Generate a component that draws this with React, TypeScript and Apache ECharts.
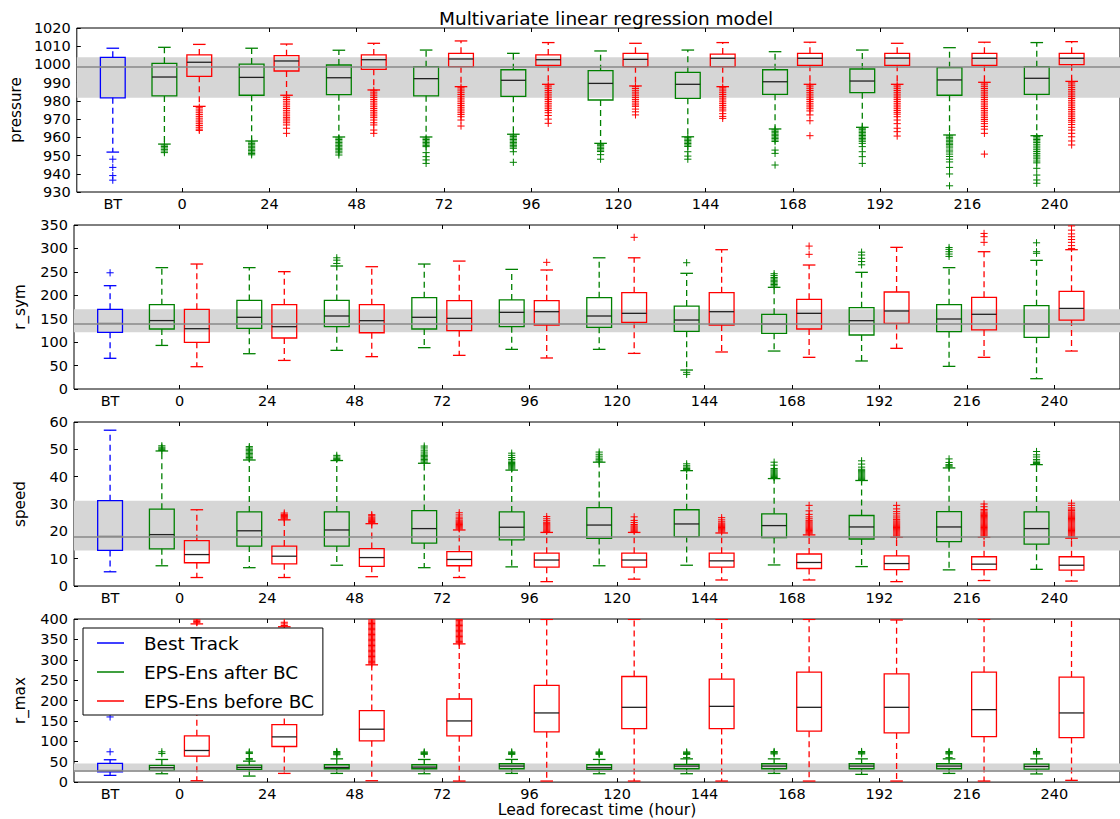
import React, { useEffect, useRef } from "react";
import * as echarts from "echarts";

const FONT = "DejaVu Sans";
const C_BT = "#0000ff";
const C_AFTER = "#008000";
const C_BEFORE = "#ff0000";

const LEADS = [0, 24, 48, 72, 96, 120, 144, 168, 192, 216, 240];
const BT_POS = -19.1;
const AFTER_OFFSET = -4.9;
const BEFORE_OFFSET = 4.7;
const X_TICK_LABELS = ["BT", "0", "24", "48", "72", "96", "120", "144", "168", "192", "216", "240"];

// ---------- pressure ----------  [min, Q1, median, Q3, max]
const pressureBT = [951.9, 981.7, 998.6, 1003.9, 1008.9];
const pressureBTOut = [948, 943.5, 939, 936.5];
const pressureAfter = [
  [956.3, 982.7, 993.1, 1000.6, 1009.4],
  [958, 983.1, 992.9, 1000.2, 1008.9],
  [960.2, 983.4, 992.7, 999.7, 1007.8],
  [960.2, 982.8, 992.2, 998.8, 1007.9],
  [961.7, 982.5, 991.3, 997.1, 1006.1],
  [956.7, 980.5, 989.6, 996.6, 1007.4],
  [960.3, 981.4, 989.1, 995.7, 1007.9],
  [964.6, 983.6, 990.5, 997.1, 1007],
  [965.5, 984.5, 990.9, 997.5, 1007.9],
  [961.3, 983.1, 991.5, 998.2, 1009.2],
  [960.9, 983.6, 992.4, 998.8, 1012],
];
const pressureBefore = [
  [977, 993.5, 1001.2, 1005.2, 1011],
  [983.1, 996.4, 1001.9, 1004.8, 1011.2],
  [986, 997.3, 1002.6, 1005.2, 1011.6],
  [987.8, 998.8, 1003, 1006.1, 1012.9],
  [989.1, 999.5, 1002.6, 1005.2, 1012],
  [988.2, 998.8, 1002.8, 1006.1, 1011.6],
  [987.8, 998.8, 1003.4, 1005.7, 1012],
  [989.1, 999.5, 1003.4, 1006.1, 1012.2],
  [989.1, 999.5, 1003.5, 1006.1, 1011.6],
  [990.2, 999.5, 1003.4, 1006.1, 1012.2],
  [990.7, 999.9, 1003.4, 1006.1, 1012.5],
];
const pressureAfterOut = [
  [955.8, 955, 954.2, 953.4, 952.5, 951.6],
  [957.5, 956.7, 955.9, 955.1, 954.3, 953.5, 952.7, 951.9, 951.1, 950.4],
  [959.6, 958.8, 958, 957.2, 956.4, 955.6, 954.8, 954, 953.2, 952.4, 951.5, 950.3],
  [959.6, 958.8, 958, 957.2, 956.4, 955.6, 954.9, 951.6, 949.4, 947.6, 945.7],
  [961.2, 960.4, 959.6, 958.8, 958, 957.2, 956.4, 955.6, 954.8, 954, 952.1, 946.3],
  [956.2, 955.4, 954.6, 953.8, 953, 952.2, 950.5, 948],
  [959.8, 959, 958.2, 957.4, 956.6, 955.8, 955, 952.1, 949.7, 948],
  [964.1, 963.3, 962.5, 961.7, 960.9, 960.1, 959.3, 958.5, 957.7, 953, 951.2, 944.8],
  [965, 964.2, 963.4, 962.6, 961.8, 961, 960.2, 959.4, 958.6, 957.8, 956.7, 954.9, 952.1, 949.4, 945.7],
  [960.8, 960, 959.2, 958.4, 957.6, 956.8, 956, 955.2, 954.2, 953, 952, 950.8, 949.5, 948, 946.5, 943.5, 939.9, 933.4],
  [960.4, 959.6, 958.8, 958, 957.2, 956.2, 955.2, 954.2, 953.2, 952.2, 951.2, 950.2, 949.2, 948.2, 947, 946, 943, 939.3, 936.6, 934.8],
];
const pressureBeforeOut = [
  [976.5, 975.5, 974.5, 973.5, 972.5, 971.5, 970.5, 969.5, 968.5, 967.5, 966.5, 965.5, 964.5, 963.8],
  [982.8, 981.8, 980.8, 979.8, 978.8, 977.8, 976.8, 975.8, 974.8, 973.8, 972.8, 971.8, 970.8, 970, 969, 968, 966.8, 965, 962.2],
  [985.8, 984.8, 983.8, 982.8, 981.8, 980.8, 979.8, 978.8, 977.8, 976.8, 975.8, 974.8, 973.8, 972.8, 971.8, 970.8, 969.5, 968, 966.8, 964, 962.2],
  [987.5, 986.5, 985.5, 984.5, 983.5, 982.5, 981.5, 980.5, 979.5, 978.5, 977.5, 976.5, 975.5, 974.5, 973.5, 972.5, 971.3, 969.5, 966.2],
  [988.7, 987.7, 986.7, 985.7, 984.7, 983.7, 982.7, 981.7, 980.7, 979.7, 978.7, 977.7, 976.7, 975.7, 974.7, 973.5, 972, 970, 967.7],
  [987.8, 986.8, 985.8, 984.8, 983.8, 982.8, 981.8, 980.8, 979.8, 978.8, 977.8, 977, 975.5, 974, 972.3],
  [987.5, 986.5, 985.5, 984.5, 983.5, 982.5, 981.5, 980.5, 979.5, 978.5, 977.5, 976.5, 975.5, 974.5, 973, 971.5, 970.4],
  [988.7, 987.7, 986.7, 985.7, 984.7, 983.7, 982.7, 981.7, 980.7, 979.7, 978.7, 977.7, 976.7, 975.7, 974.5, 972.3, 969.1, 960.9],
  [988.7, 987.7, 986.7, 985.7, 984.7, 983.7, 982.7, 981.7, 980.7, 979.7, 978.7, 977.7, 976.7, 975.7, 974.7, 973.7, 972.7, 971.3, 969.5, 967.5, 965, 963.1, 960.7],
  [989.8, 988.8, 987.8, 986.8, 985.8, 984.8, 983.8, 982.8, 981.8, 980.8, 979.8, 978.8, 977.8, 976.8, 975.8, 974.8, 973.8, 972.8, 971.8, 970.8, 969.8, 968.8, 967.5, 966, 964.5, 962.2, 950.8],
  [990.3, 989.3, 988.3, 987.3, 986.3, 985.3, 984.3, 983.3, 982.3, 981.3, 980.3, 979.3, 978.3, 977.3, 976.3, 975.3, 974.3, 973.3, 972.3, 971.3, 970.3, 969.3, 968.3, 967, 965.5, 964, 962.2, 960.3, 958, 955.8],
];

// ---------- r_sym ----------
const rsymBT = [65.5, 121, 140.2, 170, 220.5];
const rsymBTOut = [248];
const rsymAfter = [
  [93, 128, 146, 180, 259],
  [75.3, 129.5, 153, 189, 259],
  [82.5, 133, 155.8, 189, 262.5],
  [88.2, 128, 153, 195, 266.7],
  [84.6, 133, 163.6, 190, 255.3],
  [84.6, 131.6, 155.8, 195, 280],
  [40.5, 123, 147.2, 177, 246.9],
  [81, 118.8, 138.7, 159.4, 217],
  [59.8, 115.2, 145.8, 173.5, 249],
  [48.3, 122.3, 149.4, 180, 259],
  [22, 110.3, 138.7, 177.8, 274.6],
];
const rsymBefore = [
  [47.6, 99.6, 128.7, 170, 266.7],
  [61, 108.8, 133, 180, 250.4],
  [69, 120, 145.8, 180, 261],
  [71.8, 124.5, 150.8, 188.5, 273],
  [66.2, 136.6, 165, 188.5, 254],
  [76, 142.3, 161.5, 205.6, 280],
  [79, 136.6, 165, 205.6, 297.3],
  [67.6, 128, 161.5, 191.4, 264.6],
  [86.8, 140, 166.5, 207, 302.3],
  [67.6, 126, 159.4, 195.7, 293],
  [81, 147.2, 172, 208.5, 297.3],
];
const rsymAfterOut = [
  [], [], [268, 275, 280], [], [], [], [269.5, 35.6, 31.3],
  [220, 223, 226, 229, 232, 235, 238, 242, 246],
  [265, 272, 279, 286, 292],
  [283, 288, 293, 298, 302],
  [289.6, 293, 312],
];
const rsymBeforeOut = [
  [], [], [], [], [270.3], [323.7], [], [287.4, 305], [], [313, 325, 332],
  [300, 306, 313, 319, 325, 331, 339, 348],
];

// ---------- speed ----------
const speedBT = [5.2, 13, 18.2, 31.2, 57];
const speedBTOut: number[] = [];
const speedAfter = [
  [7.4, 13.6, 18.8, 28.1, 49.4],
  [6.7, 14.6, 20.2, 27.1, 46.1],
  [7.6, 14.6, 20.5, 27.1, 45.9],
  [6.7, 15.7, 21, 27.6, 44.9],
  [7, 16.9, 21.5, 27.1, 42.4],
  [7.4, 17.4, 22.3, 28.7, 45.3],
  [7.6, 18.1, 22.7, 27.9, 42.2],
  [7.7, 17.7, 22.1, 26.4, 39.3],
  [7.1, 17.2, 21.6, 25.8, 38.6],
  [5.9, 16.2, 21.6, 27.2, 43.2],
  [6.1, 15.3, 21, 27.1, 44.4],
];
const speedBefore = [
  [3.1, 8.5, 11.5, 16.6, 27.9],
  [3.1, 8.1, 10.9, 14.6, 24.2],
  [3.4, 7.2, 10.4, 13.7, 22.8],
  [3.1, 7.4, 9.7, 12.6, 20.5],
  [1.6, 6.9, 9.5, 12, 19.6],
  [2.5, 6.9, 9.5, 12, 19.6],
  [2.2, 6.9, 9.2, 12, 19.4],
  [2.2, 6.4, 8.6, 11.7, 18.7],
  [1.6, 6, 8.2, 11, 17.8],
  [2, 6, 8, 10.7, 17.8],
  [1.8, 5.8, 7.6, 10.7, 17.5],
];
const speedAfterOut = [
  [49.6, 50, 50.4, 50.8, 51.3],
  [46.5, 47, 47.5, 48, 48.5, 49, 49.5, 50, 50.5, 51],
  [46.3, 46.7, 47.2, 47.8],
  [45.3, 45.8, 46.3, 46.8, 47.3, 47.8, 48.3, 49, 49.7, 50.5, 51.2],
  [42.8, 43.2, 43.6, 44, 44.4, 44.8, 45.2, 45.7, 46.3, 47, 47.8, 48.6],
  [45.7, 46.2, 46.8, 47.5, 48.2, 49],
  [42.6, 43, 43.5, 44, 44.7],
  [39.7, 40.1, 40.5, 40.9, 41.3, 41.7, 42.1, 42.5, 43, 44.2, 45.3],
  [39, 39.4, 39.8, 40.2, 40.6, 41, 41.4, 41.8, 42.2, 42.7, 43.5, 44.6, 45.8],
  [43.6, 44, 44.4, 45.2, 46.5],
  [44.8, 45.2, 45.7, 46.3, 47.2, 48, 49.2],
];
const speedBeforeOut = [
  [],
  [24.6, 25, 25.4, 25.8, 26.2, 26.7],
  [23.2, 23.6, 24, 24.4, 24.8, 25.2, 25.7, 26.1],
  [20.9, 21.3, 21.7, 22.1, 22.5, 22.9, 23.3, 23.7, 24.1, 24.6, 25.2, 26, 26.8],
  [20, 20.4, 20.8, 21.2, 21.6, 22, 22.4, 22.8, 23.3, 23.9, 24.6, 25.4],
  [20, 20.4, 20.8, 21.2, 21.6, 22, 22.5, 23.2, 24, 25.3],
  [19.8, 20.2, 20.6, 21, 21.4, 21.8, 22.2, 22.6, 23, 23.5, 24.2, 25],
  [19.1, 19.5, 19.9, 20.3, 20.7, 21.1, 21.5, 21.9, 22.3, 22.7, 23.1, 23.5, 24, 24.6, 25.3, 26.2, 27.5, 29.5],
  [18.2, 18.6, 19, 19.4, 19.8, 20.2, 20.6, 21, 21.4, 21.8, 22.2, 22.6, 23, 23.4, 23.8, 24.3, 24.9, 25.6, 26.4, 27.2, 28.2, 29.5],
  [18.2, 18.6, 19, 19.4, 19.8, 20.2, 20.6, 21, 21.4, 21.8, 22.2, 22.6, 23, 23.4, 23.8, 24.2, 24.6, 25, 25.4, 25.8, 26.2, 26.6, 27, 27.5, 28, 29, 30],
  [17.9, 18.3, 18.7, 19.1, 19.5, 19.9, 20.3, 20.7, 21.1, 21.5, 21.9, 22.3, 22.7, 23.1, 23.5, 23.9, 24.3, 24.7, 25.1, 25.5, 25.9, 26.3, 26.7, 27.1, 27.6, 28.1, 28.6, 29.5, 30.3],
];

// ---------- r_max ----------
const rmaxBT = [16.5, 25.4, 28.7, 45.8, 54.8];
const rmaxBTOut = [74.3, 159.8];
const rmaxAfter = [
  [20.5, 28.7, 35.2, 40.9, 55.5],
  [14.8, 31.1, 36, 41.7, 51.4],
  [21.3, 32.8, 36, 42.5, 57],
  [20.5, 32.8, 36.8, 42.5, 55.5],
  [21.3, 32.8, 39.3, 45, 55.6],
  [20.5, 31.1, 35.2, 42.5, 55.6],
  [20.5, 32.8, 39.3, 43.4, 57],
  [21.3, 32.8, 39.3, 45, 57],
  [19, 32.8, 39.3, 45, 57],
  [21.3, 32.8, 39.3, 45, 57],
  [20, 32, 38.5, 44.2, 57],
];
const rmaxBefore = [
  [3.4, 63.7, 77.5, 113.4, 388],
  [21.3, 87.3, 110.9, 141, 381],
  [3.4, 101.2, 129.7, 175.3, 287.6],
  [2.6, 113.4, 150, 203.8, 339],
  [2.6, 123.3, 169.6, 237, 399],
  [2.6, 131.3, 183.4, 259, 399],
  [2.6, 131.3, 185.8, 252.6, 399],
  [2.6, 124.8, 183.4, 269.7, 399],
  [2.6, 120.7, 183.4, 265.6, 397.6],
  [2.6, 111.7, 177.7, 269.7, 399],
  [4.3, 109.3, 169.6, 257.5, 410],
];
const rmaxAfterOut = [
  [70, 74.3],
  [55, 58, 70, 72, 74],
  [67, 69, 71, 73, 75],
  [68, 70, 72, 74],
  [68, 70, 72, 74],
  [68, 70, 72, 74],
  [60, 68, 70, 72, 74],
  [69, 71, 73, 75],
  [69, 71, 73, 75],
  [60, 69, 71, 73, 75],
  [69, 71, 73, 75],
];
const rmaxBeforeOut = [
  [391, 394, 397, 400],
  [384, 388, 392],
  [290, 293, 296, 299, 302, 305, 308, 311, 314, 317, 320, 323, 326, 329, 332, 335, 338, 341, 344, 347, 350, 353, 356, 359, 362, 365, 368, 371, 374, 377, 380, 383, 386, 389, 392, 395, 398],
  [342, 345, 348, 351, 354, 357, 360, 363, 366, 369, 372, 375, 378, 381, 384, 387, 390, 393, 396, 399],
  [], [], [], [], [], [], [],
];

const PANELS = [
  { name: "pressure", min: 930, max: 1020, interval: 10, bt: pressureBT, btOut: pressureBTOut, after: pressureAfter, before: pressureBefore, afterOut: pressureAfterOut, beforeOut: pressureBeforeOut },
  { name: "r_sym", min: 0, max: 350, interval: 50, bt: rsymBT, btOut: rsymBTOut, after: rsymAfter, before: rsymBefore, afterOut: rsymAfterOut, beforeOut: rsymBeforeOut },
  { name: "speed", min: 0, max: 60, interval: 10, bt: speedBT, btOut: speedBTOut, after: speedAfter, before: speedBefore, afterOut: speedAfterOut, beforeOut: speedBeforeOut },
  { name: "r_max", min: 0, max: 400, interval: 50, bt: rmaxBT, btOut: rmaxBTOut, after: rmaxAfter, before: rmaxBefore, afterOut: rmaxAfterOut, beforeOut: rmaxBeforeOut },
];

const GRID_TOPS = [28, 225, 422, 619];
const GRID_H = 164;
const GRID_LEFT = 74;
const GRID_W = 1054;
const X_MIN = -29;
const X_MAX = 258;

const LW = 1.3;

function boxRenderer(color: string, medianColor: string) {
  return (_params: any, api: any) => {
    const x = api.value(0);
    const pMin = api.coord([x, api.value(1)]);
    const pQ1 = api.coord([x, api.value(2)]);
    const pMed = api.coord([x, api.value(3)]);
    const pQ3 = api.coord([x, api.value(4)]);
    const pMax = api.coord([x, api.value(5)]);
    const cx = pMin[0];
    const hw = 12.4;
    const cw = 6.3;
    const dashed = { stroke: color, lineWidth: LW, lineDash: [6, 4], fill: "none" };
    const solid = { stroke: color, lineWidth: LW, fill: "none" };
    return {
      type: "group",
      children: [
        { type: "line", shape: { x1: cx, y1: pQ3[1], x2: cx, y2: pMax[1] }, style: dashed },
        { type: "line", shape: { x1: cx, y1: pQ1[1], x2: cx, y2: pMin[1] }, style: dashed },
        { type: "line", shape: { x1: cx - cw, y1: pMax[1], x2: cx + cw, y2: pMax[1] }, style: solid },
        { type: "line", shape: { x1: cx - cw, y1: pMin[1], x2: cx + cw, y2: pMin[1] }, style: solid },
        { type: "rect", shape: { x: cx - hw, y: pQ3[1], width: hw * 2, height: pQ1[1] - pQ3[1] }, style: solid },
        { type: "line", shape: { x1: cx - hw, y1: pMed[1], x2: cx + hw, y2: pMed[1] }, style: { stroke: medianColor, lineWidth: LW } },
      ],
    };
  };
}

function plusRenderer(color: string) {
  return (_params: any, api: any) => {
    const p = api.coord([api.value(0), api.value(1)]);
    const h = 3.6;
    const st = { stroke: color, lineWidth: 1 };
    return {
      type: "group",
      children: [
        { type: "line", shape: { x1: p[0] - h, y1: p[1], x2: p[0] + h, y2: p[1] }, style: st },
        { type: "line", shape: { x1: p[0], y1: p[1] - h, x2: p[0], y2: p[1] + h }, style: st },
      ],
    };
  };
}

function buildOption() {
  const grids: any[] = [];
  const xAxes: any[] = [];
  const yAxes: any[] = [];
  const series: any[] = [];
  const labelValues = [BT_POS, ...LEADS];

  PANELS.forEach((panel, i) => {
    grids.push({
      left: GRID_LEFT, top: GRID_TOPS[i], width: GRID_W, height: GRID_H,
      show: true, borderColor: "#000", borderWidth: 1, backgroundColor: "transparent",
    });
    const isLast = i === PANELS.length - 1;
    xAxes.push({
      type: "value", gridIndex: i, min: X_MIN, max: X_MAX, position: "bottom",
      axisLine: { show: false, onZero: false },
      splitLine: { show: false },
      axisTick: { show: true, inside: true, length: 4, customValues: LEADS, lineStyle: { color: "#000" } },
      axisLabel: {
        show: true, customValues: labelValues, margin: 4,
        formatter: (v: number) => X_TICK_LABELS[labelValues.indexOf(v)] ?? String(v),
        color: "#000", fontFamily: FONT, fontSize: 14.5,
      },
      name: isLast ? "Lead forecast time (hour)" : "",
      nameLocation: "middle", nameGap: 19,
      nameTextStyle: { color: "#000", fontFamily: FONT, fontSize: 15.6 },
    });
    xAxes.push({
      type: "value", gridIndex: i, min: X_MIN, max: X_MAX, position: "top",
      axisLine: { show: false, onZero: false }, splitLine: { show: false },
      axisTick: { show: true, inside: true, length: 4, customValues: LEADS, lineStyle: { color: "#000" } },
      axisLabel: { show: false },
    });
    yAxes.push({
      type: "value", gridIndex: i, min: panel.min, max: panel.max, interval: panel.interval,
      position: "left",
      axisLine: { show: false, onZero: false }, splitLine: { show: false },
      axisTick: { show: true, inside: true, length: 4, lineStyle: { color: "#000" } },
      axisLabel: {
        color: "#000", fontFamily: FONT, fontSize: 14.5, margin: 6,
        formatter: (v: number) => String(v),
      },
      name: panel.name, nameLocation: "middle", nameGap: 47,
      nameTextStyle: { color: "#000", fontFamily: FONT, fontSize: 15.2 },
    });
    const xi = i * 2;

    // gray band (BT inter-quartile range) and BT median line
    series.push({
      type: "scatter", xAxisIndex: xi, yAxisIndex: i, data: [[BT_POS, panel.bt[2]]], symbolSize: 0, silent: true, z: 1,
      markArea: {
        silent: true, itemStyle: { color: "#d6d6d6" }, label: { show: false },
        data: [[{ yAxis: panel.bt[1] }, { yAxis: panel.bt[3] }]],
      },
    });
    series.push({
      type: "scatter", xAxisIndex: xi, yAxisIndex: i, data: [[BT_POS, panel.bt[2]]], symbolSize: 0, silent: true, z: 4,
      markLine: {
        silent: true, symbol: ["none", "none"], label: { show: false },
        lineStyle: { color: "#888888", width: 1.5, type: "solid" },
        data: [{ yAxis: panel.bt[2] }],
      },
    });

    const groups = [
      { name: "Best Track", color: C_BT, boxes: [[BT_POS, ...panel.bt]], outs: panel.btOut.map((v) => [BT_POS, v]), med: "#888888" },
      {
        name: "EPS-Ens after BC", color: C_AFTER, med: "#222222",
        boxes: panel.after.map((b, k) => [LEADS[k] + AFTER_OFFSET, ...b]),
        outs: panel.afterOut.flatMap((arr, k) => arr.map((v) => [LEADS[k] + AFTER_OFFSET, v])),
      },
      {
        name: "EPS-Ens before BC", color: C_BEFORE, med: "#222222",
        boxes: panel.before.map((b, k) => [LEADS[k] + BEFORE_OFFSET, ...b]),
        outs: panel.beforeOut.flatMap((arr, k) => arr.map((v) => [LEADS[k] + BEFORE_OFFSET, v])),
      },
    ];
    groups.forEach((g) => {
      series.push({
        type: "custom", name: g.name, xAxisIndex: xi, yAxisIndex: i, clip: true, z: 2,
        itemStyle: { color: g.color },
        encode: { x: 0, y: [1, 2, 3, 4, 5] },
        renderItem: boxRenderer(g.color, g.med),
        data: g.boxes,
      });
      series.push({
        type: "custom", name: g.name, xAxisIndex: xi, yAxisIndex: i, clip: true, z: 2,
        itemStyle: { color: g.color },
        encode: { x: 0, y: 1 },
        renderItem: plusRenderer(g.color),
        data: g.outs,
      });
    });
  });

  return {
    animation: false,
    backgroundColor: "#ffffff",
    textStyle: { fontFamily: FONT },
    title: {
      text: "Multivariate linear regression model",
      left: 434, top: 4,
      textStyle: { color: "#000", fontFamily: FONT, fontSize: 18.5, fontWeight: "normal" },
    },
    legend: {
      orient: "vertical", left: 83, top: 628, z: 10,
      selectedMode: false,
      data: [
        { name: "Best Track", icon: "rect", itemStyle: { color: C_BT } },
        { name: "EPS-Ens after BC", icon: "rect", itemStyle: { color: C_AFTER } },
        { name: "EPS-Ens before BC", icon: "rect", itemStyle: { color: C_BEFORE } },
      ],
      itemWidth: 27, itemHeight: 1.5, itemGap: 9,
      textStyle: { color: "#000", fontFamily: FONT, fontSize: 18.4, lineHeight: 20, padding: [0, 0, 0, 15] },
      borderColor: "#000", borderWidth: 1, backgroundColor: "#ffffff",
      padding: [5, 9, 4, 14],
    },
    grid: grids,
    xAxis: xAxes,
    yAxis: yAxes,
    series,
  };
}

export default function App() {
  const ref = useRef<HTMLDivElement>(null);
  useEffect(() => {
    if (!ref.current) return;
    const chart = echarts.init(ref.current, undefined, { renderer: "svg" });
    chart.setOption(buildOption() as any);
    return () => chart.dispose();
  }, []);
  return (
    <div
      ref={ref}
      style={{ position: "fixed", left: 0, top: 0, width: 1120, height: 819, background: "#fff" }}
    />
  );
}
